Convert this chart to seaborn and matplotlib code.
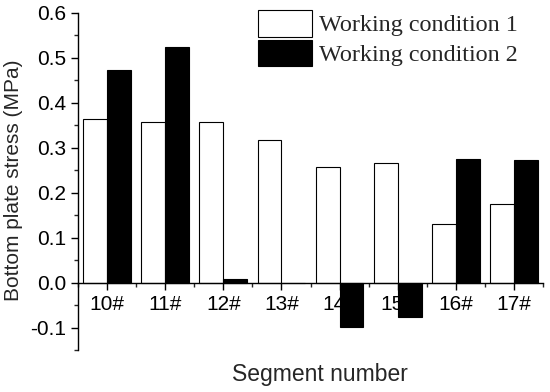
import matplotlib
matplotlib.use("Agg")
import matplotlib.pyplot as plt
from matplotlib.ticker import MultipleLocator, FixedLocator
import pandas as pd
import seaborn as sns

segments = ["10#", "11#", "12#", "13#", "14#", "15#", "16#", "17#"]
condition_1 = [0.364, 0.357, 0.358, 0.318, 0.257, 0.267, 0.131, 0.175]
condition_2 = [0.473, 0.525, 0.007, -0.002, -0.098, -0.077, 0.276, 0.272]
series_names = ["Working condition 1", "Working condition 2"]

df = pd.DataFrame({
    "segment": segments * 2,
    "stress": condition_1 + condition_2,
    "condition": [series_names[0]] * len(segments) + [series_names[1]] * len(segments),
})

sns.set_style("ticks")
plt.rcParams["font.family"] = ["Liberation Sans", "DejaVu Sans"]

fig = plt.figure(figsize=(5.5, 3.92), dpi=100)
ax = fig.add_axes([78 / 550, 1 - 350 / 392, 465 / 550, 337 / 392])

sns.barplot(
    data=df, x="segment", y="stress", hue="condition",
    palette=["white", "black"], edgecolor="black", linewidth=0.8,
    width=0.82, gap=0, ax=ax, errorbar=None,
)

ax.set_xlim(-0.5, 7.5)
ax.set_ylim(-0.15, 0.6)
ax.yaxis.set_major_locator(MultipleLocator(0.1))
ax.yaxis.set_minor_locator(MultipleLocator(0.05))
ax.set_yticklabels([f"{v:.1f}" for v in ax.get_yticks()])
ax.xaxis.set_minor_locator(FixedLocator([i - 0.5 for i in range(9)]))

ax.spines["top"].set_visible(False)
ax.spines["right"].set_visible(False)
ax.spines["bottom"].set_position(("data", 0))
for s in ["left", "bottom"]:
    ax.spines[s].set_linewidth(1.0)
    ax.spines[s].set_color("black")

ax.tick_params(axis="both", which="major", direction="out", length=5, width=1,
               labelsize=15, colors="black")
ax.tick_params(axis="both", which="minor", direction="out", length=3, width=1)
ax.tick_params(axis="x", pad=4)
ax.xaxis.set_zorder(0.5)

ax.set_xlabel("Segment number", fontsize=16.5)
ax.set_ylabel("Bottom plate stress (MPa)", fontsize=15)
ax.xaxis.set_label_coords(320 / 550, 1 - 374 / 392, transform=fig.transFigure)
ax.yaxis.set_label_coords(14 / 550, 1 - 180 / 392, transform=fig.transFigure)
ax.xaxis.label.set_va("center")
ax.yaxis.label.set_va("center")

handles, labels = ax.get_legend_handles_labels()
ax.legend(
    handles, labels, loc="upper left",
    bbox_to_anchor=(258 / 550, 1 - 10 / 392), bbox_transform=fig.transFigure,
    frameon=False, prop={"family": "Liberation Serif", "size": 17.4},
    handlelength=2.23, handleheight=1.32, handletextpad=0.3,
    labelspacing=0.13, borderpad=0, borderaxespad=0,
)

fig.savefig("out.png", dpi=100)
